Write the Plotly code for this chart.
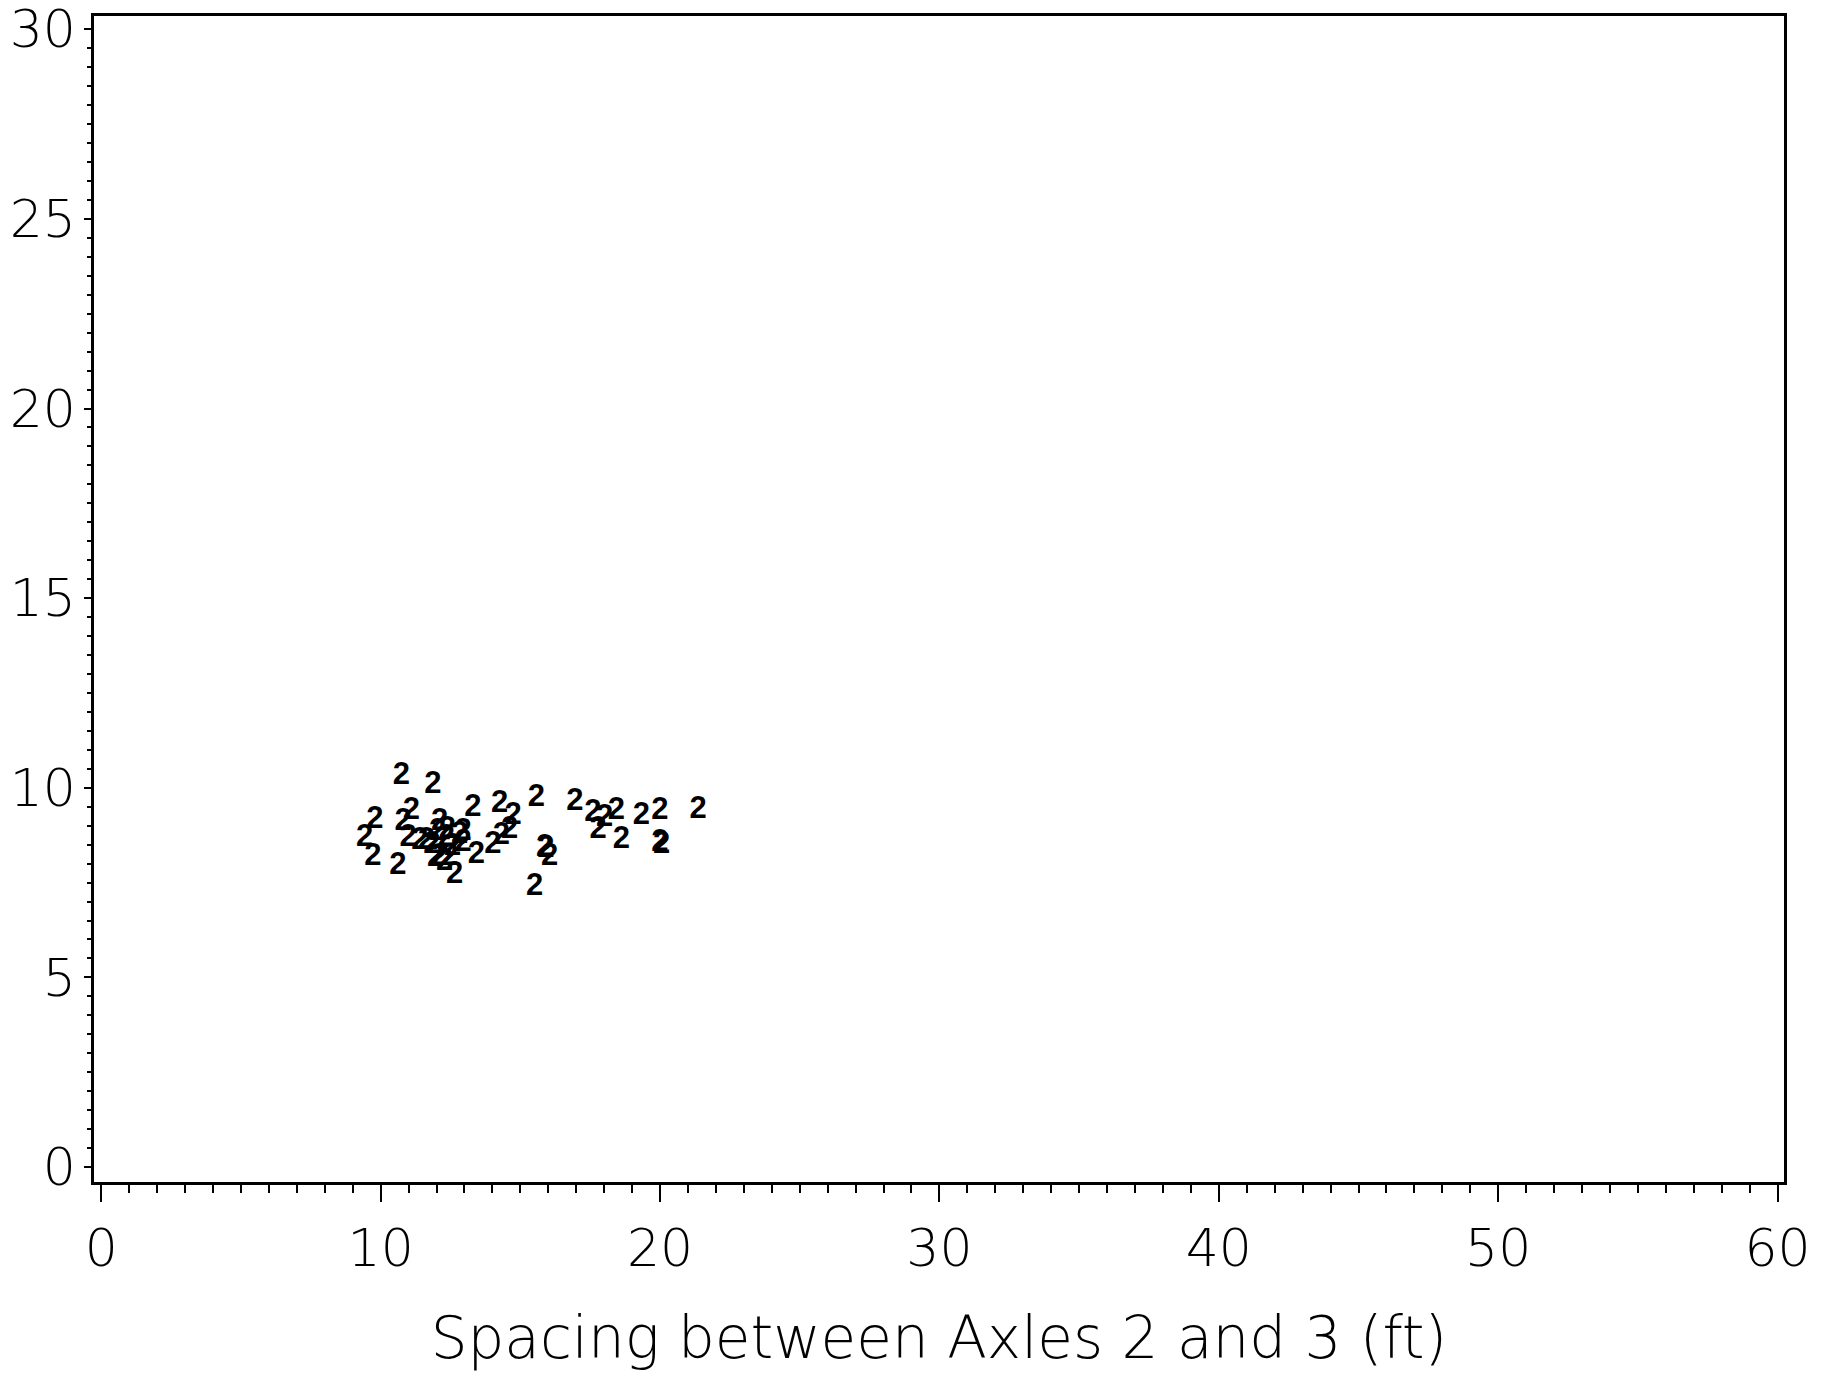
import plotly.graph_objects as go

# Spacing between axles 2 and 3 (ft) vs. second measured spacing (ft), plotted with symbol "2"
spacing_23 = [
    10.74, 11.87, 9.79, 9.43, 9.72, 10.62, 11.10, 10.80, 10.98, 12.11,
    11.64, 12.35, 12.83, 12.11, 12.47, 12.95, 12.65, 13.30, 14.26, 14.74,
    14.62, 14.32, 14.02, 13.43, 15.57, 15.87, 16.05, 15.51, 16.95, 17.60,
    18.02, 18.44, 17.78, 18.62, 19.33, 19.99, 19.99, 20.06, 21.36, 15.91,
    11.40, 11.83, 11.97, 12.29, 12.58, 12.04, 12.39, 12.95,
]
other_spacing = [
    10.31, 10.07, 9.15, 8.67, 8.18, 7.92, 9.37, 9.10, 8.67, 9.10,
    8.58, 8.67, 8.75, 8.18, 8.18, 8.53, 7.70, 9.46, 9.57, 9.24,
    8.88, 8.71, 8.49, 8.23, 9.72, 8.40, 8.18, 7.39, 9.63, 9.33,
    9.19, 9.37, 8.88, 8.62, 9.24, 9.37, 8.53, 8.49, 9.41, 8.38,
    8.60, 8.49, 8.15, 8.04, 8.44, 8.83, 8.89, 8.84,
]
symbol_label = "2"

x_ticks = [0, 10, 20, 30, 40, 50, 60]
y_ticks = [0, 5, 10, 15, 20, 25, 30]
x_title = "Spacing between Axles 2 and 3 (ft)"

axis_font = dict(family="DejaVu Sans", size=52, color="black", weight=200)

fig = go.Figure(
    go.Scatter(
        x=spacing_23,
        y=other_spacing,
        mode="text",
        text=[symbol_label] * len(spacing_23),
        textposition="middle center",
        textfont=dict(family="Liberation Sans", size=31, color="black", weight="bold"),
        hoverinfo="x+y",
        cliponaxis=False,
    )
)

fig.update_layout(
    width=1826,
    height=1373,
    margin=dict(l=94, r=42, t=16, b=191),
    paper_bgcolor="white",
    plot_bgcolor="white",
    showlegend=False,
)

fig.update_xaxes(
    range=[-0.26, 60.23],
    tickmode="array",
    tickvals=x_ticks,
    ticktext=[str(v) for v in x_ticks],
    ticks="outside",
    ticklen=17,
    tickwidth=2,
    tickcolor="black",
    minor=dict(dtick=1, tick0=0, ticks="outside", ticklen=8, tickwidth=2, tickcolor="black"),
    showgrid=False,
    zeroline=False,
    showline=True,
    linecolor="black",
    linewidth=2.5,
    mirror=True,
    automargin=False,
    tickfont=axis_font,
    ticklabelstandoff=2,
    title=dict(text=x_title, font=dict(family="DejaVu Sans", size=58, color="black", weight=200), standoff=41),
)

fig.update_yaxes(
    range=[-0.395, 30.35],
    tickmode="array",
    tickvals=y_ticks,
    ticktext=[str(v) for v in y_ticks],
    ticks="outside",
    ticklen=7,
    tickwidth=2,
    tickcolor="black",
    minor=dict(dtick=0.5, tick0=0, ticks="outside", ticklen=4, tickwidth=2, tickcolor="black"),
    showgrid=False,
    zeroline=False,
    showline=True,
    linecolor="black",
    linewidth=2.5,
    mirror=True,
    automargin=False,
    tickfont=axis_font,
    ticklabelstandoff=-2,
    ticklabeloverflow="allow",
)

fig.write_html("out.html")
